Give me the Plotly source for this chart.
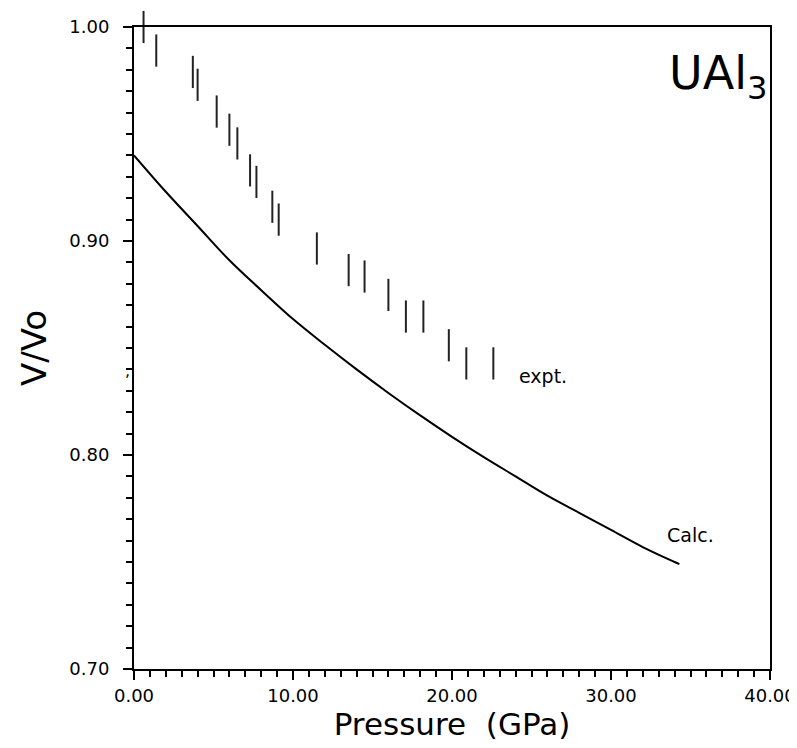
import plotly.graph_objects as go

# Experimental data (Pressure GPa, V/Vo)
expt_p = [0.6, 1.4, 3.7, 4.0, 5.2, 6.0, 6.5, 7.3, 7.7, 8.7, 9.1, 11.5, 13.5, 14.5, 16.0, 17.1, 18.2, 19.8, 20.9, 22.6]
expt_v = [1.000, 0.989, 0.979, 0.973, 0.9605, 0.952, 0.9456, 0.933, 0.9276, 0.916, 0.910, 0.8965,
          0.8864, 0.8834, 0.8748, 0.8647, 0.8647, 0.8513, 0.8428, 0.8428]

# Calculated curve
calc_p = [0, 2, 4, 6, 8, 10, 12, 14, 16, 18, 20, 22, 24, 26, 28, 30, 32, 34, 34.3]
calc_v = [0.940, 0.923, 0.907, 0.891, 0.877, 0.8635, 0.8515, 0.840, 0.829, 0.8185, 0.8085,
          0.799, 0.790, 0.781, 0.773, 0.765, 0.757, 0.750, 0.749]

fig = go.Figure()
fig.add_trace(go.Scatter(x=calc_p, y=calc_v, mode="lines",
                         line=dict(color="black", width=2), line_shape="spline",
                         showlegend=False, hoverinfo="skip"))
fig.add_trace(go.Scatter(x=expt_p, y=expt_v, mode="markers",
                         marker=dict(symbol="line-ns", size=23,
                                     line=dict(color="#222", width=2)),
                         showlegend=False, cliponaxis=False))

axis_font = dict(family="DejaVu Sans", size=18, color="black")
fig.update_xaxes(range=[0, 40], tick0=0, dtick=10, tickformat=".2f", automargin=False,
                 ticks="outside", ticklen=9, tickwidth=2, tickcolor="black",
                 minor=dict(dtick=1, ticks="outside", ticklen=6, tickwidth=1.5, tickcolor="black"),
                 showline=True, linecolor="black", linewidth=2, mirror=True,
                 showgrid=False, zeroline=False, tickfont=axis_font,
                 title=dict(text="Pressure  (GPa)", font=dict(family="DejaVu Sans", size=31, color="black"),
                            standoff=2))
fig.update_yaxes(range=[0.70, 1.00], tick0=0.7, dtick=0.1, tickformat=".2f", automargin=False,
                 ticks="outside", ticklen=9, tickwidth=2, tickcolor="black",
                 minor=dict(dtick=0.01, ticks="outside", ticklen=6, tickwidth=1.5, tickcolor="black"),
                 showline=True, linecolor="black", linewidth=2, mirror=True,
                 showgrid=False, zeroline=False, tickfont=axis_font, ticklabelstandoff=10,
                 title=dict(text="V/Vo", font=dict(family="DejaVu Sans", size=34, color="black"),
                            standoff=12))

fig.add_annotation(x=36.7, y=0.977, text="UAl<sub>3</sub>", showarrow=False,
                   font=dict(family="DejaVu Sans", size=46, color="black"))
fig.add_annotation(x=25.7, y=0.837, text="expt.", showarrow=False,
                   font=dict(family="DejaVu Sans", size=19, color="black"))
fig.add_annotation(x=35.0, y=0.7625, text="Calc.", showarrow=False,
                   font=dict(family="DejaVu Sans", size=19, color="black"))
fig.add_annotation(xref="paper", x=-0.018, y=0.8397, text=",", showarrow=False,
                   font=dict(family="DejaVu Sans", size=16, color="black"))

# the page places the figure 8 px from its top-left corner
fig.update_layout(width=789, height=740, plot_bgcolor="white", paper_bgcolor="white",
                  margin=dict(l=126, r=27, t=19, b=79))

fig.write_html("out.html")
